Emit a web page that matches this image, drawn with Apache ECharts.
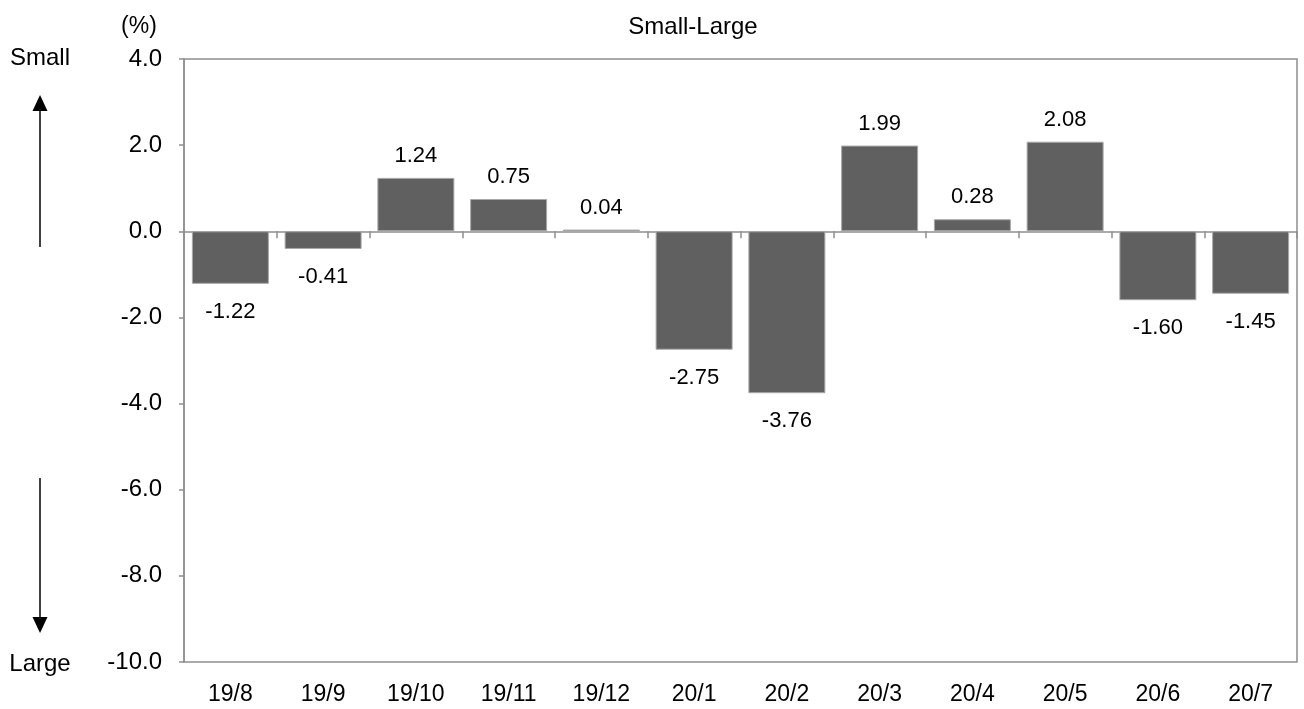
<!DOCTYPE html>
<html>
<head>
<meta charset="utf-8">
<script src="https://cdn.jsdelivr.net/npm/echarts@6/dist/echarts.min.js"></script>
<style>
html,body{margin:0;padding:0;background:#fff;}
#chart{width:1304px;height:709px;}
</style>
</head>
<body>
<div id="chart"></div>
<script>
const categories = ['19/8','19/9','19/10','19/11','19/12','20/1','20/2','20/3','20/4','20/5','20/6','20/7'];
const values = [-1.22, -0.41, 1.24, 0.75, 0.04, -2.75, -3.76, 1.99, 0.28, 2.08, -1.60, -1.45];
const yMin = -10, yMax = 4, yStep = 2;
const titleText = 'Small-Large';
const unitText = '(%)';
const upText = 'Small';
const downText = 'Large';

const FONT = 'Liberation Sans, Arial, sans-serif';
const chart = echarts.init(document.getElementById('chart'));

const barData = values.map(v => ({
  value: v,
  label: v >= 0 ? { position: 'top', distance: 11 } : { position: 'bottom', distance: 17 }
}));

chart.setOption({
  animation: false,
  backgroundColor: '#fff',
  grid: { left: 184, right: 7, top: 59, bottom: 47, show: true, borderColor: '#8e8e8e', borderWidth: 1.5, containLabel: false },
  xAxis: [
    {
      type: 'category', data: categories, position: 'bottom',
      axisLine: { show: false, onZero: false },
      axisTick: { show: false },
      axisLabel: { color: '#000', fontSize: 23, fontFamily: FONT, margin: 21 }
    },
    {
      type: 'category', data: categories, position: 'bottom',
      axisLine: { show: true, onZero: true, lineStyle: { color: '#8e8e8e', width: 1.5 } },
      axisTick: { show: true, inside: false, length: 7, lineStyle: { color: '#8e8e8e', width: 1.5 } },
      axisLabel: { show: false }
    }
  ],
  yAxis: {
    type: 'value', min: yMin, max: yMax, interval: yStep,
    axisLine: { show: true, lineStyle: { color: '#8e8e8e', width: 1.5 } },
    axisTick: { show: true, length: 5, lineStyle: { color: '#8e8e8e', width: 1.5 } },
    splitLine: { show: false },
    axisLabel: { color: '#000', fontSize: 24, fontFamily: FONT, margin: 22, formatter: v => v.toFixed(1) }
  },
  series: [{
    type: 'bar', xAxisIndex: 0, data: barData,
    barCategoryGap: '17%',
    itemStyle: { color: '#606060', borderColor: '#a8a8a8', borderWidth: 1 },
    label: { show: true, color: '#000', fontSize: 22, fontFamily: FONT, formatter: p => p.value.toFixed(2) }
  }],
  graphic: [
    { type: 'text', x: 693, y: 27, style: { text: titleText, fill: '#000', font: '24px ' + FONT, align: 'center', verticalAlign: 'middle' } },
    { type: 'text', x: 139, y: 27, style: { text: unitText, fill: '#000', font: '23px ' + FONT, align: 'center', verticalAlign: 'middle' } },
    { type: 'text', x: 40, y: 58, style: { text: upText, fill: '#000', font: '24px ' + FONT, align: 'center', verticalAlign: 'middle' } },
    { type: 'text', x: 40, y: 664, style: { text: downText, fill: '#000', font: '24px ' + FONT, align: 'center', verticalAlign: 'middle' } },
    { type: 'line', shape: { x1: 40, y1: 108, x2: 40, y2: 247 }, style: { stroke: '#000', lineWidth: 1.5 } },
    { type: 'polygon', shape: { points: [[40, 95], [32.5, 111], [47.5, 111]] }, style: { fill: '#000' } },
    { type: 'line', shape: { x1: 40, y1: 478, x2: 40, y2: 619 }, style: { stroke: '#000', lineWidth: 1.5 } },
    { type: 'polygon', shape: { points: [[40, 633], [32.5, 617], [47.5, 617]] }, style: { fill: '#000' } }
  ]
});
</script>
</body>
</html>
